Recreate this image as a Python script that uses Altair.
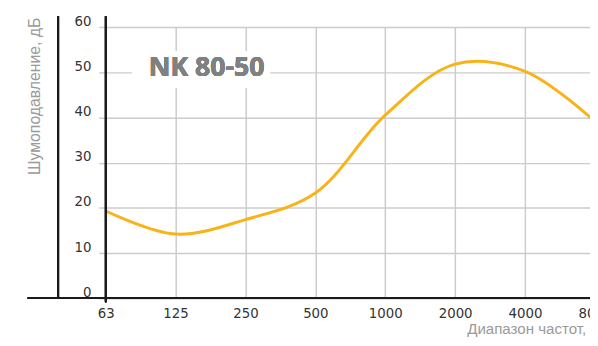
import altair as alt
import pandas as pd

# ---- data ----
freq_labels = ["63", "125", "250", "500", "1000", "2000", "4000", "8000"]
freq_index = [0, 1, 2, 3, 4, 5, 6, 7]
noise_db = [19.3, 14.2, 17.4, 23.3, 40.5, 51.8, 50.2, 39.1]
y_ticks = [0, 10, 20, 30, 40, 50, 60]

title_text = "NK 80-50"
x_title = "Диапазон частот, Гц"
y_title = "Шумоподавление, дБ"

df = pd.DataFrame({"idx": freq_index, "db": noise_db, "freq": freq_labels})

W, H = 496, 275
LABEL_FONT = "Liberation Sans Narrow, DejaVu Sans Condensed, Roboto, sans-serif"
TITLE_FONT = "Liberation Sans, Roboto, sans-serif"
GRID = "#cccccc"
CURVE = "#f9b318"

label_expr = "[" + ",".join("'%s'" % s for s in freq_labels) + "][datum.value]"

x_enc = alt.X(
    "idx:Q",
    scale=alt.Scale(domain=[0, 7], nice=False, zero=False),
    axis=alt.Axis(
        values=freq_index, labelExpr=label_expr, title=x_title,
        grid=True, gridColor=GRID, gridWidth=1.5, domain=False, ticks=False,
        labelFont=LABEL_FONT, labelFontSize=15, labelColor="#333333",
        labelPadding=7, labelBaseline="top", labelFlush=False, labelBound=False,
        labelOverlap=False,
        titleFont=TITLE_FONT, titleFontSize=15.3, titleFontWeight="normal",
        titleColor="#9a9a9a", titleAnchor="start", titleAlign="left",
        titleBaseline="alphabetic", titleX=366, titleY=36,
    ),
)
y_enc = alt.Y(
    "db:Q",
    scale=alt.Scale(domain=[0, 60], nice=False, zero=True),
    axis=alt.Axis(
        values=y_ticks, title=y_title,
        grid=True, gridColor=GRID, gridWidth=1.5, domain=False,
        ticks=True, tickColor=GRID, tickSize=7, tickWidth=1.5,
        labelFont=LABEL_FONT, labelFontSize=15, labelColor="#333333",
        labelPadding=8, labelBaseline="alphabetic", labelOffset=-2,
        titleFont=TITLE_FONT, titleFontSize=16, titleFontWeight="normal",
        titleColor="#9a9a9a", titleAngle=270, titleAlign="right",
        titleBaseline="alphabetic", titleX=-67, titleY=-10,
    ),
)

base = alt.Chart(df)

curve = base.mark_line(
    interpolate="catmull-rom", color=CURVE, strokeWidth=3, clip=True
).encode(x=x_enc, y=y_enc)

# white box behind the model name (hides grid lines)
label_box = base.mark_rect(color="white").encode(
    x=alt.datum(0.38), x2=alt.datum(2.35), y=alt.datum(46.5), y2=alt.datum(54.5)
)
label_text = base.mark_text(
    text=title_text, font="Open Sans", fontSize=27, fontWeight="bold",
    color="#808080", align="center", baseline="middle",
).encode(x=alt.datum(1.445), y=alt.datum(50.8))

left_rule = base.mark_rule(color="#1a1a1a", strokeWidth=1.5).encode(
    x=alt.value(-48), y=alt.value(-11), y2=alt.value(H)
)
first_rule = base.mark_rule(color="#1a1a1a", strokeWidth=1.5).encode(
    x=alt.value(0), y=alt.value(-11), y2=alt.value(H + 4)
)
base_rule = base.mark_rule(color="#1a1a1a", strokeWidth=1.5).encode(
    x=alt.value(-79), x2=alt.value(W), y=alt.value(H)
)

# the reference is cropped a few pixels before the 8000 Hz line:
# negative right padding trims the drawing at the page edge
chart = alt.layer(
    curve, label_box, label_text, left_rule, first_rule, base_rule
).properties(
    width=W, height=H,
    autosize=alt.AutoSizeParams(type="none"),
    padding={"left": 99, "top": 17, "right": -5, "bottom": 38},
).configure_view(stroke=None).configure(background="white")

chart.save("out.html", embed_options={"renderer": "svg", "actions": False})
